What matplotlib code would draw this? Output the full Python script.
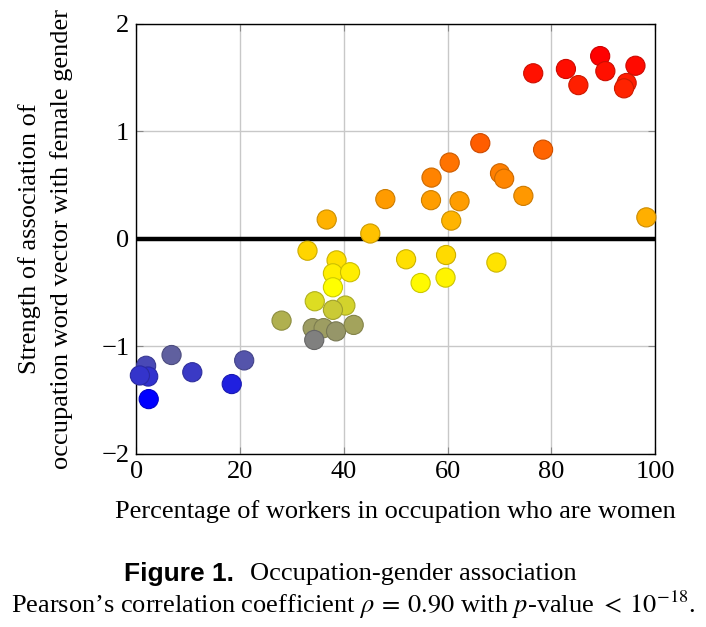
import numpy as np
import matplotlib
matplotlib.use("Agg")
import matplotlib.pyplot as plt
from matplotlib.colors import LinearSegmentedColormap, Normalize

plt.rcParams["font.family"] = ["Liberation Serif", "DejaVu Serif"]
plt.rcParams["mathtext.fontset"] = "stix"

# percentage of women in occupation vs. association strength
pct_women = [
    36.7, 48.0, 45.1, 76.5, 82.8, 85.2, 89.4, 90.4, 96.2, 94.5, 94.0,
    66.3, 78.4, 60.4, 56.9, 70.1, 70.9, 74.6, 56.8, 62.3, 60.7, 98.3,
    33.0, 52.0, 38.6, 37.9, 41.2, 37.9, 34.4, 40.3, 37.9, 28.0, 34.0,
    36.1, 38.5, 41.9, 34.3, 6.8, 20.8, 1.9, 10.8, 2.3, 0.7, 18.4, 2.4,
    59.7, 69.4, 54.8, 59.6,
]
assoc = [
    0.18, 0.37, 0.05, 1.54, 1.58, 1.43, 1.70, 1.56, 1.61, 1.45, 1.40,
    0.89, 0.83, 0.71, 0.57, 0.61, 0.56, 0.40, 0.36, 0.35, 0.17, 0.20,
    -0.11, -0.19, -0.20, -0.32, -0.31, -0.45, -0.58, -0.62, -0.66, -0.76, -0.83,
    -0.83, -0.86, -0.80, -0.94, -1.08, -1.13, -1.18, -1.24, -1.28, -1.27, -1.35, -1.49,
    -0.15, -0.22, -0.41, -0.36,
]

x_ticks = [0, 20, 40, 60, 80, 100]
y_ticks = [-2, -1, 0, 1, 2]

x = np.array(pct_women)
y = np.array(assoc)

# colour points by their y value: blue -> grey -> yellow -> orange -> red
lo, hi = -1.5, 1.7
stops = [(-1.5, (0, 0, 1)), (-0.95, (0.5, 0.5, 0.5)), (-0.45, (1, 1, 0)),
         (0.6, (1, 0.5, 0)), (1.7, (1, 0, 0))]
cmap = LinearSegmentedColormap.from_list(
    "assoc", [((v - lo) / (hi - lo), c) for v, c in stops])
norm = Normalize(lo, hi)
face = cmap(norm(y))
edge = face.copy()
edge[:, :3] *= 0.8

fig = plt.figure(figsize=(7.06, 6.27), dpi=100)
ax = fig.add_axes([0.193, 0.276, 0.735, 0.686])

ax.set_xlim(0, 100)
ax.set_ylim(-2, 2)
ax.set_xticks(x_ticks)
ax.set_yticks(y_ticks)
ax.grid(True, color="#c8c8c8", linewidth=1.0, zorder=0)
ax.tick_params(direction="in", which="both", top=True, right=True,
               color="#888888", length=5, labelsize=19, pad=5)
for s in ax.spines.values():
    s.set_linewidth(1.0)

ax.axhline(0, color="black", linewidth=3.2, zorder=2)
ax.scatter(x, y, s=190, c=face, edgecolors=edge, linewidths=0.8, zorder=3,
           clip_on=False)

ax.set_xlabel("Percentage of workers in occupation who are women",
              fontsize=19, labelpad=12)
ax.set_ylabel("Strength of association of\noccupation word vector with female gender",
              fontsize=19, labelpad=20, linespacing=1.5)

fig.text(0.332, 1 - 574 / 627, "Figure 1.", ha="right", va="center",
         fontsize=19, fontweight="bold", family="Liberation Sans")
fig.text(0.354, 1 - 574 / 627, "Occupation-gender association",
         ha="left", va="center", fontsize=19)
fig.text(0.5, 1 - 605 / 627,
         r"Pearson’s correlation coefficient $\rho\:=\:0.90$ with $p$-value $<\:10^{-18}$.",
         ha="center", va="center", fontsize=19)

fig.savefig("out.png", dpi=100)
